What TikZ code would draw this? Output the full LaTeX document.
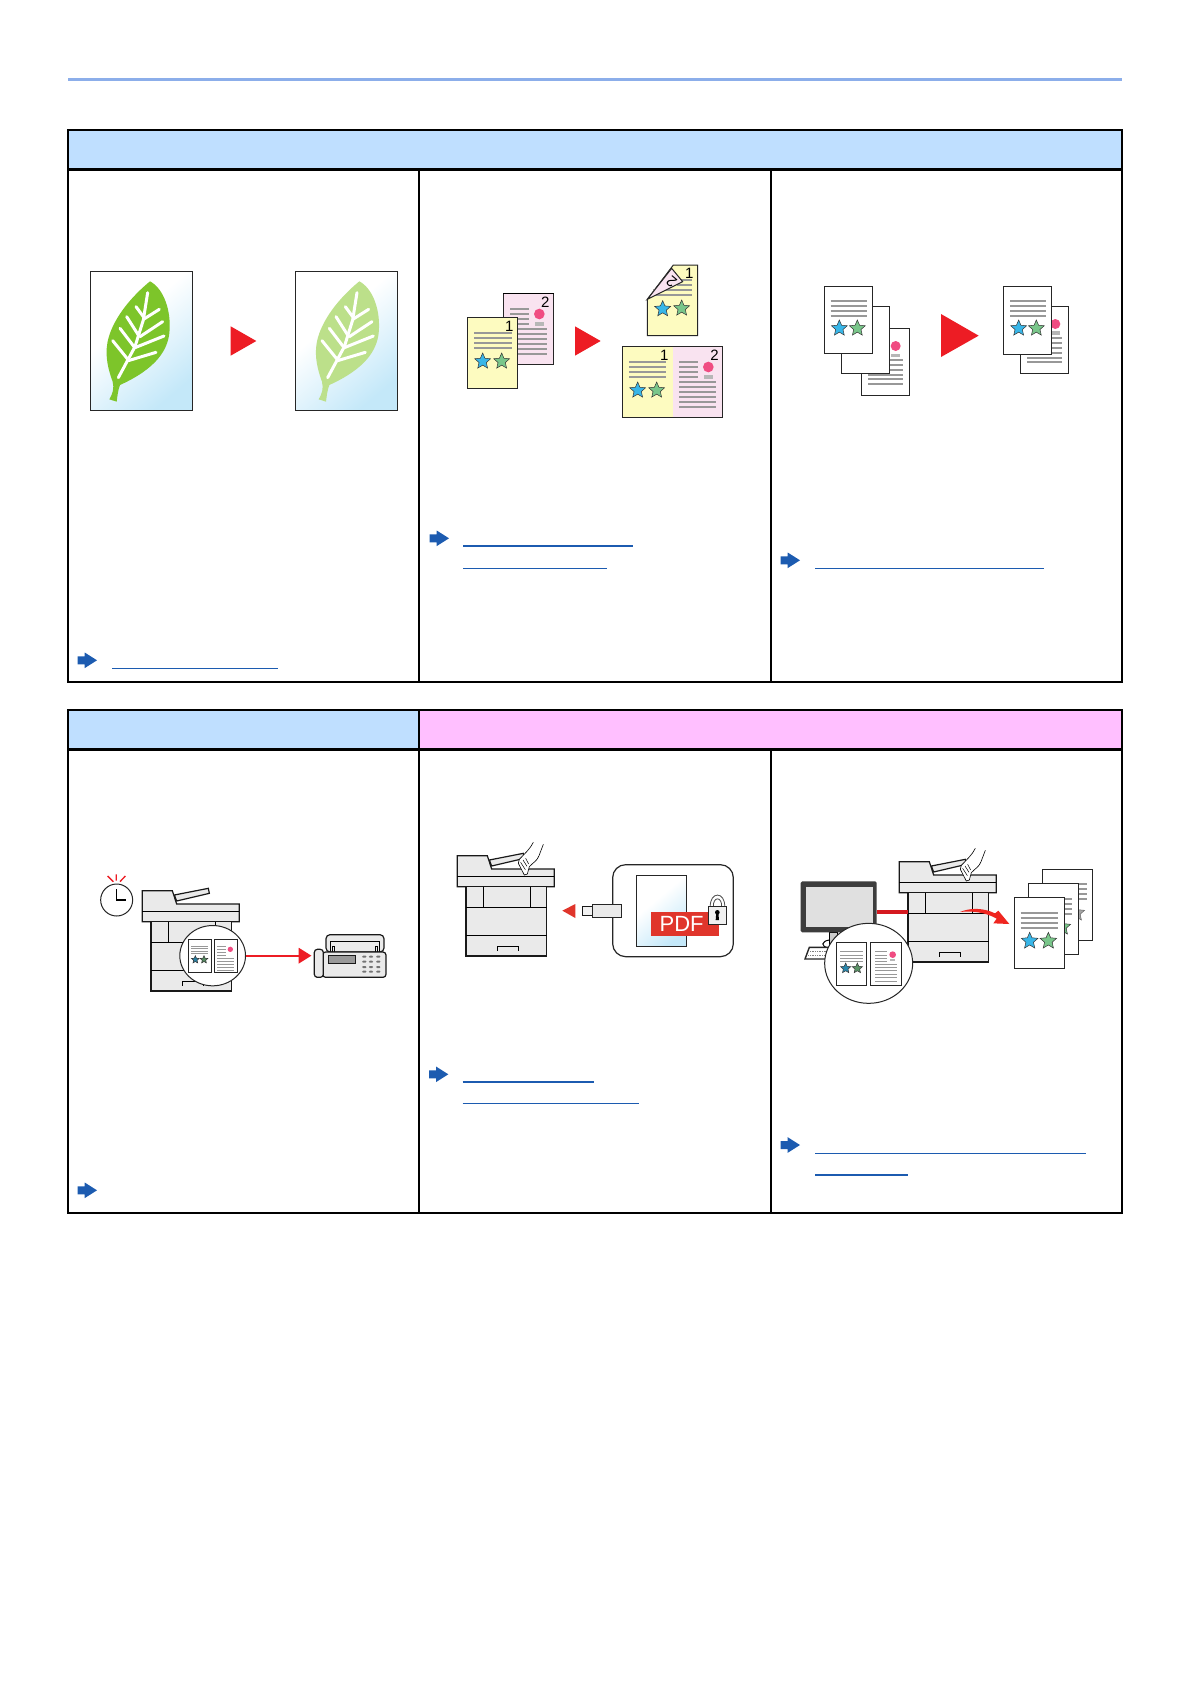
\documentclass[tikz,border=0pt]{standalone}
\usepackage{fontspec}
\setmainfont{Liberation Sans}
\usetikzlibrary{arrows.meta,shapes.geometric}
\definecolor{headblue}{HTML}{BFDFFF}
\definecolor{headpink}{HTML}{FFBFFF}
\definecolor{rulecol}{HTML}{8CAEEA}
\definecolor{linkblue}{HTML}{1C5BB0}
\definecolor{docred}{HTML}{ED1C24}
\definecolor{pdfred}{HTML}{E0352B}
\definecolor{docyellow}{HTML}{FDFBC0}
\definecolor{docpink}{HTML}{F9E3F0}
\definecolor{dotpink}{HTML}{F04C82}
\definecolor{txtgray}{HTML}{989898}
\definecolor{starblue}{HTML}{38B6E8}
\definecolor{stargreen}{HTML}{79C68A}
\definecolor{bodygray}{HTML}{EAEAEA}
\definecolor{fadeblue}{HTML}{C4E8F9}
\pgfdeclareverticalshading{pagefadeshade}{100bp}{color(0bp)=(fadeblue); color(25bp)=(fadeblue); color(60bp)=(white); color(100bp)=(white)}
\tikzset{
  crop/.style 2 args={shift={(#1,#2)},x=.33333pt,y=-.33333pt},
  frame/.style={line width=2.3pt},
  docpage/.style={draw=black!85,line width=1pt,fill=white},
  pagefade/.style={shading=pagefadeshade,shading angle=40},
  txtline/.style={txtgray,line width=1.7pt},
  smline/.style={txtgray,line width=.9pt},
  dot/.style={fill=dotpink},
  link/.style={linkblue,line width=1.2pt},
  docnum/.style={inner sep=0pt,font=\fontsize{15}{15}\selectfont},
  redtri/.style={fill=docred},
  sblue/.style={fill=starblue,draw=black!80,line width=.5pt},
  sgreen/.style={fill=stargreen,draw=black!80,line width=.5pt},
  lens/.style={ellipse,draw=black!85,fill=white,line width=1pt,inner sep=0pt},
  redline/.style={draw=docred,line width=2pt},
  prn/.style={draw=black!90,fill=bodygray,line width=1.2pt},
  docstar/.pic={\path[pic actions] (-90:1) -- (-54:.46) -- (-18:1) -- (18:.46) -- (54:1) -- (90:.46)
     -- (126:1) -- (162:.46) -- (198:1) -- (234:.46) -- cycle;},
  bluearrow/.pic={\fill[linkblue] (-19.3,-4) -- (-12.3,-4) -- (-12.3,-7.8) -- (0,0) -- (-12.3,7.8)
     -- (-12.3,4) -- (-19.3,4) -- cycle;},
  leafpic/.pic={
     \fill[pic actions] (270,484) .. controls (310,505) and (335,570) .. (328,640)
        .. controls (322,690) and (290,745) .. (180,795) .. controls (174,810) and (172,830) .. (170,845)
        -- (148,838) .. controls (158,822) and (163,805) .. (158,785)
        .. controls (145,750) and (135,710) .. (142,670) .. controls (150,620) and (190,550) .. (270,484) -- cycle;
     \draw[white,line width=3pt,line cap=round] (263,518) -- (250,600) -- (225,680) -- (175,773);
     \draw[white,line width=3pt,line cap=round] (228,560) -- (250,590) (200,590) -- (235,645)
        (180,625) -- (222,680) (158,662) -- (205,720) (298,568) -- (252,597) (308,605) -- (240,650)
        (312,648) -- (225,683) (288,697) -- (205,722);},
  printer/.pic={
     \path[prn] (96,13) -- (198,-7) -- (201,8) -- (103,31) -- cycle;
     \path[prn] (0,0) -- (90,0) -- (103,40) -- (291,40) -- (291,93) -- (0,93) -- cycle;
     \draw[line width=.8pt] (0,63) -- (291,63);
     \path[prn] (26,93) rectangle (268,301);
     \draw[line width=.8pt] (78,93) -- (78,156) (220,93) -- (220,156);
     \draw[line width=1.4pt] (26,156) -- (268,156);
     \draw[line width=.8pt] (26,239) -- (268,239);
     \draw[line width=.7pt] (120,285) -- (120,272) -- (184,272) -- (184,285);
     \coordinate (-w) at (26,150);},
  handpic/.pic={
     \path[fill=white] (228,-40) .. controls (218,-20) and (203,-7) .. (186,11) -- (183,23) -- (201,58)
        -- (210,55) -- (216,33) .. controls (228,20) and (240,15) .. (245,0) -- (258,-34) -- cycle;
     \draw[line width=.6pt] (228,-40) .. controls (218,-20) and (203,-7) .. (186,11) -- (183,23) -- (201,58)
        -- (210,55) -- (216,33) .. controls (228,20) and (240,15) .. (245,0) -- (258,-34);
     \draw[line width=.5pt] (190,20) -- (204,42) (197,13) -- (209,32) (205,8) -- (214,25);},
}
% lines of a small sheet, x from #1 to #2, at the heights #3
\newcommand{\txtlines}[3]{\foreach \ypos in {#3} \draw[txtline] (#1,\ypos) -- (#2,\ypos);}
\newcommand{\smlines}[3]{\foreach \ypos in {#3} \draw[smline] (#1,\ypos) -- (#2,\ypos);}
\begin{document}
\begin{tikzpicture}[x=1pt,y=-1pt]
\useasboundingbox (0,0) rectangle (1190,1684);
\fill[white] (0,0) rectangle (1190,1684);
\fill[rulecol] (68,77.8) rectangle (1122,80.8);
% tables
\fill[headblue] (68,130) rectangle (1122,169);
\fill[headblue] (68,710) rectangle (419,749.5);
\fill[headpink] (419,710) rectangle (1122,749.5);
\draw[frame] (68,130) rectangle (1122,681.7);
\draw[frame,line width=3pt] (68,169) -- (1122,169);
\draw[frame] (419,169) -- (419,681.7) (771,169) -- (771,681.7);
\draw[frame] (68,710) rectangle (1122,1212.7);
\draw[frame] (68,749.5) -- (1122,749.5);
\draw[frame] (419,710) -- (419,1212.7) (771,749.5) -- (771,1212.7);
% leaves
\begin{scope}[crop={60}{120}]
\shade[pagefade] (91,454) rectangle (398,871);
\shade[pagefade] (706,454) rectangle (1013,871);
\draw[line width=.9pt,draw=black!85] (91,454) rectangle (398,871) (706,454) rectangle (1013,871);
\pic[fill={rgb,255:red,125;green,197;blue,42}] at (0,0) {leafpic};
\pic[fill={rgb,255:red,188;green,224;blue,138}] at (628,0) {leafpic};
\path[redtri] (512,619) -- (589,663) -- (512,707) -- cycle;
\end{scope}
% two sided
\begin{scope}[crop={420}{240}]
\path[docpage,fill=docpink] (250,160) rectangle (401,374);
\draw[line width=1.6pt] (250,160) -- (401,160);
\node[docnum] (numtwoa) at (376,187) {2};
\txtlines{270}{328}{208,223,238,253}
\fill[dot] (358,222) circle (16);
\fill[txtgray!70] (345,247) rectangle (372,258);
\txtlines{270}{381}{268,283,298,313,328,343}
\path[docpage,fill=docyellow] (142,232) rectangle (293,445);
\node[docnum] (numonea) at (268,260) {1};
\txtlines{162}{275}{279,294,309,324}
\pic[sblue,scale=25] at (188,364) {docstar};
\pic[sgreen,scale=25] at (245,364) {docstar};
\path[redtri] (465,259) -- (542,303) -- (465,347) -- cycle;
% folded sheet
\path[docpage,fill=docyellow] (682,178) -- (760,75) -- (833,75) -- (833,287) -- (682,287) -- cycle;
\node[docnum] (numoneb) at (808,100) {1};
\txtlines{770}{815}{121,136}
\txtlines{700}{815}{151,166}
\pic[sblue,scale=25] at (728,207) {docstar};
\pic[sgreen,scale=25] at (785,205) {docstar};
\path[docpage,fill=docpink] (682,178) -- (755,85) -- (788,125) -- cycle;
\node[docnum,rotate=140] (numtwob) at (755,124) {2};
% spread
\fill[docyellow] (607,319) rectangle (760,532);
\fill[docpink] (760,319) rectangle (908,532);
\draw[line width=1pt,draw=black!85] (607,319) rectangle (908,532);
\node[docnum] (numonec) at (733,346) {1};
\node[docnum] (numtwoc) at (884,346) {2};
\txtlines{627}{739}{366,381,396,411}
\pic[sblue,scale=25] at (653,451) {docstar};
\pic[sgreen,scale=25] at (710,451) {docstar};
\txtlines{778}{835}{365,380,395,410}
\fill[dot] (865,381) circle (16);
\fill[txtgray!70] (852,404) rectangle (878,416);
\txtlines{778}{888}{425,440,455,470,485,502}
\end{scope}
\draw[link] (463.3,546) -- (632.7,546) (463.3,568.3) -- (607,568.3);
% collating
\begin{scope}[crop={780}{260}]
\path[docpage] (244,205) rectangle (388,406);
\fill[dot] (347,258) circle (15);
\fill[txtgray!70] (333,282) rectangle (360,290);
\txtlines{264}{368}{300,315,330,344,358,373}
\path[docpage] (184,139) rectangle (329,340);
\path[docpage] (133,79) rectangle (278,280);
\txtlines{152}{260}{123,138,152,167}
\pic[sblue,scale=25] at (178,205) {docstar};
\pic[sgreen,scale=25] at (232,205) {docstar};
\path[redtri] (483,162) -- (596,227) -- (483,291) -- cycle;
\path[docpage] (722,139) rectangle (866,340);
\fill[dot] (826,192) circle (15);
\fill[txtgray!70] (813,214) rectangle (840,225);
\txtlines{742}{847}{235,250,264,278,293,307}
\path[docpage,line width=1.5pt] (671,79) rectangle (815,283);
\txtlines{690}{798}{123,138,152,167}
\pic[sblue,scale=25] at (716,205) {docstar};
\pic[sgreen,scale=25] at (769,205) {docstar};
\end{scope}
\draw[link] (815,568.3) -- (1044,568.3);
% delayed fax
\begin{scope}[crop={80}{860}]
\draw[line width=1pt,draw=black!85] (110,120) circle (48);
\draw[line width=1.3pt] (110,88) -- (110,120) -- (137,120);
\draw[docred,line width=1.3pt] (83,48) -- (100,65) (109,43) -- (109,62) (136,48) -- (120,65);
\pic at (187,92) {printer};
\node[lens,minimum width=65.7pt,minimum height=60.3pt] (lensfax) at (398,287) {};
\path[docpage] (325,238) rectangle (395,338) (403,238) rectangle (471,338);
\smlines{333}{385}{259,266,273,280}
\pic[sblue,fill=starblue!70!black,scale=12] at (346,299) {docstar};
\pic[sgreen,fill=stargreen!70!black,scale=12] at (372,299) {docstar};
\smlines{412}{438}{259,268,277,286}
\fill[dot] (451,268) circle (8);
\smlines{412}{462}{295,304,313,322,330}
% fax machine
\path[prn,rounded corners=4pt] (738,276) -- (738,224) -- (912,224) -- (912,276) -- cycle;
\draw[line width=.7pt] (750,276) -- (750,245) -- (898,245) -- (898,276);
\draw[line width=.6pt] (757,276) -- (757,258) -- (764,258) -- (764,276) (892,276) -- (892,258) -- (885,258) -- (885,276);
\path[prn,rounded corners=3pt] (728,276) rectangle (918,352);
\node[prn,rounded corners=3pt,minimum width=9pt,minimum height=28pt,inner sep=0pt] (faxphone) at (716.5,310) {};
\path[draw=black!90,fill=black!40,line width=.7pt] (745,287) rectangle (825,311);
\foreach \xkey in {853,873,895} \foreach \ykey in {290,305,321,335}
  \fill[black!55,rounded corners=1pt] (\xkey-6.5,\ykey-3) rectangle (\xkey+6.5,\ykey+3);
\draw[redline,shorten >=2.3pt,-{Triangle[length=12.7pt,width=15.3pt]}] (lensfax.east) -- (lensfax.east -| faxphone.west);
\end{scope}
% usb pdf
\begin{scope}[crop={430}{830}]
\pic at (82,77) {printer};
\pic at (82,77) {handpic};
\path[fill=pdfred] (397,242) -- (436,222) -- (436,264) -- cycle;
\draw[line width=1.2pt,draw=black!85,fill=white,rounded corners=13pt] (548,104) rectangle (910,380);
\draw[line width=1.2pt,draw=black!90,fill=bodygray!60] (458,230) rectangle (488,257);
\draw[line width=.8pt,draw=black!85,fill=bodygray] (488,224) rectangle (575,262);
\shade[pagefade] (619,136) rectangle (770,349);
\draw[line width=.9pt,draw=black!85] (619,136) rectangle (770,349);
\fill[pdfred] (663,246) rectangle (867,318);
\node[inner sep=0pt,text=white,font=\fontsize{22}{22}\selectfont] (pdflabel) at (755,282) {PDF};
\draw[line width=.8pt,draw=black!70] (841,232) .. controls (838,183) and (887,183) .. (884,232)
   (850,232) .. controls (848,198) and (877,198) .. (875,232);
\draw[line width=.7pt,draw=black!85,fill=bodygray!70] (835,230) rectangle (890,284);
\fill[black] (862,247) circle (7);
\fill[black] (859,247) -- (865,247) -- (867,270) -- (857,270) -- cycle;
\end{scope}
\draw[link,line width=1.6pt] (462.7,1081.7) -- (594,1081.7);
\draw[link] (462.7,1103.3) -- (639,1103.3);
% private print
\begin{scope}[crop={780}{840}]
\path[draw=black,fill=black!20,line width=.8pt] (148,277) rectangle (172,325);
\draw[line width=1pt] (148,300) .. controls (125,303) and (118,320) .. (150,325);
\path[draw=black!85,fill=white,line width=1.4pt] (75,357) -- (88,322) -- (152,322) -- (146,357) -- cycle;
\draw[black!50,line width=1pt,dash pattern=on 1pt off .7pt] (90,333) -- (148,333) (85,345) -- (145,345);
\node[rounded corners=1.5pt,fill=black!76,minimum width=76pt,minimum height=51pt,inner sep=0pt] (monitor) at (176,200.5) {};
\fill[black!12] (77,142) rectangle (278,262);
\pic (prnprint) at (358,65) {printer};
\draw[docred!90!black,line width=4pt] (monitor.east |- prnprint-w) -- (prnprint-w);
\pic at (358,65) {handpic};
\fill[docred!90!orange] (540,216) .. controls (570,203) and (610,203) .. (645,220)
   -- (655,212) -- (688,252) -- (640,250) -- (650,236) .. controls (615,216) and (575,212) .. (540,216) -- cycle;
\node[lens,minimum width=88pt,minimum height=80pt] (lensprint) at (266,370) {};
\path[docpage] (169,307) rectangle (260,436) (272,307) rectangle (365,436);
\smlines{180}{250}{335,345,355,365}
\pic[sblue,fill=starblue!75!black,scale=16] at (197,385) {docstar};
\pic[sgreen,fill=stargreen!75!black,scale=16] at (232,385) {docstar};
\smlines{285}{320}{335,345,355,365}
\fill[dot] (338,344) circle (10);
\fill[txtgray!70] (330,358) rectangle (346,364);
\smlines{285}{352}{372,382,392,403,413,423}
% the three sheets
\path[docpage] (787,88) rectangle (938,301);
\txtlines{806}{920}{133,148,163,178}
\pic[fill=gray!70,draw=black!60,line width=.5pt,scale=26] at (889,219) {docstar};
\path[docpage] (745,130) rectangle (895,343);
\txtlines{764}{877}{177,192,207,222}
\pic[sgreen,scale=26] at (847,261) {docstar};
\path[docpage] (703,172) rectangle (854,385);
\txtlines{722}{835}{218,234,250,265}
\pic[sblue,scale=26] at (749,303) {docstar};
\pic[sgreen,scale=26] at (805,303) {docstar};
\end{scope}
\draw[link] (815,1153.3) -- (1086,1153.3) (815,1175) -- (908,1175);
% pointers
\foreach \xtip/\ytip in {97/660.3,449/538.3,800/560.3,97/1190.3,448.3/1074.3,800/1145}
  \pic at (\xtip,\ytip) {bluearrow};
\draw[link] (112.3,668.3) -- (277.7,668.3);
\end{tikzpicture}
\end{document}
